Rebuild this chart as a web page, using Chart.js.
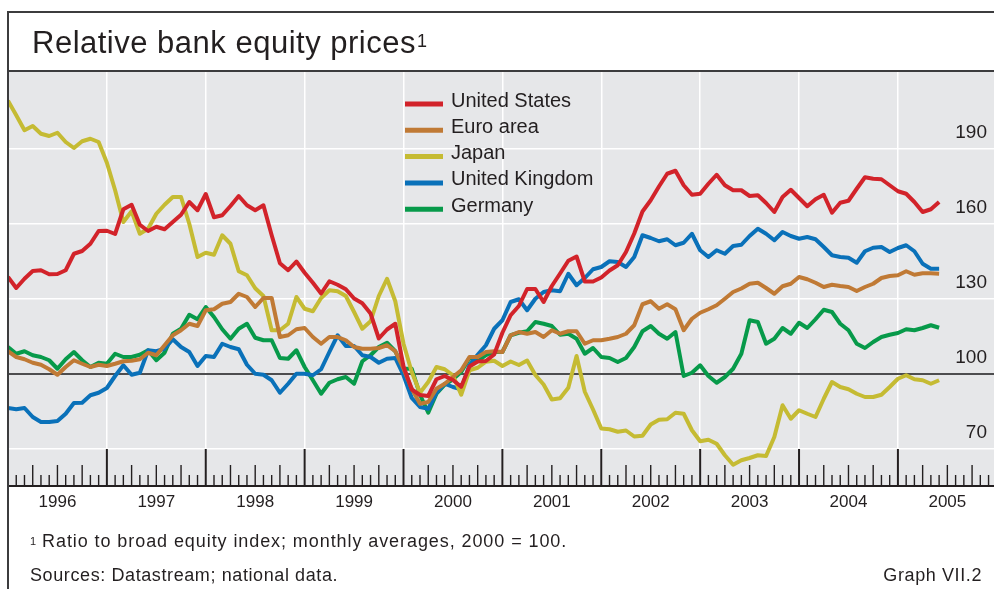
<!DOCTYPE html>
<html>
<head>
<meta charset="utf-8">
<title>Relative bank equity prices</title>
<script src="https://cdn.jsdelivr.net/npm/chart.js@4.4.1/dist/chart.umd.min.js"></script>
<style>
  html, body { margin: 0; padding: 0; background: #fff; }
  #wrap { position: relative; width: 994px; height: 589px; overflow: hidden;
          font-family: 'Liberation Sans', Arial, sans-serif; color: #231f20; }
  #chart { position: absolute; left: 0; top: 0; }
  .rule { position: absolute; background: #3c3c3e; }
  .title { position: absolute; left: 32px; top: 27px; font-size: 31px; line-height: 31px;
           letter-spacing: 0.5px; white-space: nowrap; }
  .title sup { font-size: 18px; vertical-align: top; position: relative; top: -1px; margin-left: 1px; }
  .foot { position: absolute; font-size: 18px; line-height: 18px; letter-spacing: 0.6px; white-space: nowrap; }
  .foot.note { letter-spacing: 0.92px; }
  .foot sup { font-size: 11px; vertical-align: top; position: relative; top: 0px; letter-spacing: 0; }
</style>
</head>
<body>
<div id="wrap">
  <canvas id="chart" width="994" height="589"></canvas>
  <div class="rule" style="left:7px; top:11px; width:2px; height:578px;"></div>
  <div class="rule" style="left:7px; top:11px; width:987px; height:2px;"></div>
  <div class="rule" style="left:7px; top:70px; width:987px; height:2px;"></div>
  <div class="title">Relative bank equity prices<sup>1</sup></div>
  <div class="foot note" style="left:30px; top:532px;"><sup>1</sup> Ratio to broad equity index; monthly averages, 2000 = 100.</div>
  <div class="foot" style="left:30px; top:566px;">Sources: Datastream; national data.</div>
  <div class="foot" style="right:12px; top:566px;">Graph VII.2</div>
</div>
<script>
/* ── Data: monthly values, Jan 1996 … Jun 2005 (index 0 = Jan 1996) ── */
var startYear = 1996;
var yearLabels = ['1996', '1997', '1998', '1999', '2000', '2001', '2002', '2003', '2004', '2005'];
var yTickValues = [70, 100, 130, 160, 190];
var seriesNames = ['United States', 'Euro area', 'Japan', 'United Kingdom', 'Germany'];

var usData = [
  138.8, 134.4, 138.1, 141.2, 141.5, 139.9, 140.0, 141.5, 148.1, 149.2, 152.1, 157.2,
  157.3, 156.0, 165.9, 167.7, 159.7, 157.2, 158.9, 157.9, 160.8, 163.7, 168.8, 165.5,
  172.0, 162.7, 163.5, 167.2, 171.2, 167.5, 165.5, 167.5, 155.5, 144.3, 141.5, 145.0,
  140.5, 136.5, 132.2, 137.1, 135.7, 133.9, 130.2, 128.3, 124.2, 114.2, 117.8, 120.1,
  103.0, 93.8, 91.6, 91.2, 97.9, 99.2, 97.6, 94.9, 103.0, 105.0, 105.2, 107.8,
  116.5, 123.5, 127.2, 134.0, 134.0, 128.8, 135.2, 140.2, 145.3, 147.0, 137.0, 137.0,
  138.6, 141.4, 143.5, 148.8, 156.2, 165.0, 169.5, 175.0, 180.1, 181.3, 175.5, 171.7,
  172.1, 176.1, 179.7, 175.5, 173.5, 173.5, 171.2, 171.5, 168.4, 164.8, 170.8, 173.7,
  170.4, 167.1, 169.9, 171.7, 164.5, 168.5, 169.3, 174.1, 178.7, 178.1, 177.9, 175.5,
  173.1, 172.1, 168.8, 164.8, 165.9, 168.8
];
var euroData = [
  109.1, 106.8, 105.9, 104.5, 103.7, 101.9, 99.7, 102.8, 105.5, 104.1, 102.8, 103.7,
  103.2, 104.1, 105.1, 105.3, 105.9, 108.5, 107.5, 111.5, 115.5, 117.5, 120.1, 119.2,
  125.5, 125.9, 128.1, 128.8, 132.1, 130.8, 126.8, 130.4, 130.4, 114.8, 115.5, 117.9,
  118.4, 114.8, 112.1, 114.8, 114.8, 113.5, 110.8, 110.1, 110.1, 110.4, 111.5, 109.1,
  102.1, 94.1, 88.1, 88.8, 94.1, 96.1, 98.8, 101.5, 106.8, 106.8, 108.8, 109.1,
  108.8, 115.5, 116.8, 116.1, 116.8, 114.8, 117.5, 116.1, 117.1, 117.1, 112.1, 113.5,
  113.5, 114.1, 114.8, 116.1, 119.5, 127.9, 129.1, 126.1, 127.9, 125.9, 117.5, 122.1,
  124.5, 125.9, 127.5, 130.1, 132.8, 134.2, 136.1, 136.5, 134.4, 132.1, 135.1, 136.1,
  138.8, 137.9, 136.5, 134.8, 135.7, 135.2, 134.8, 133.2, 134.8, 136.1, 138.4, 139.2,
  139.5, 141.1, 139.7, 140.3, 140.3, 140.1
];
var japanData = [
  209.3, 203.5, 197.5, 199.2, 196.1, 195.2, 196.5, 192.8, 190.4, 193.1, 194.1, 192.8,
  184.5, 173.5, 160.8, 165.1, 156.1, 158.1, 164.1, 167.7, 170.8, 170.8, 160.1, 146.8,
  148.5, 147.7, 155.5, 152.1, 141.1, 139.5, 134.3, 131.2, 117.5, 117.5, 120.1, 130.8,
  126.1, 125.1, 130.4, 133.5, 133.1, 131.2, 124.8, 118.1, 121.1, 131.2, 138.1, 129.1,
  112.1, 100.8, 92.5, 96.8, 102.8, 101.9, 99.5, 91.7, 101.5, 102.5, 104.9, 105.3,
  103.2, 105.0, 103.6, 105.4, 99.6, 95.8, 89.8, 90.3, 94.5, 107.2, 92.9, 85.8,
  78.2, 77.9, 76.9, 77.4, 75.0, 75.3, 79.8, 81.7, 81.9, 84.5, 84.1, 77.5,
  73.1, 73.7, 72.1, 67.5, 63.7, 65.5, 66.4, 67.5, 67.2, 74.8, 87.5, 82.1,
  85.5, 84.1, 82.8, 90.1, 96.8, 94.8, 93.9, 92.1, 90.8, 90.8, 91.7, 94.8,
  98.1, 99.5, 97.9, 97.5, 96.1, 97.5
];
var ukData = [
  86.4, 85.9, 86.4, 82.8, 80.8, 80.8, 81.2, 84.1, 88.4, 88.5, 91.5, 92.5,
  94.4, 99.2, 103.5, 99.7, 100.5, 109.5, 109.1, 110.1, 113.9, 110.8, 108.8, 103.2,
  107.2, 106.8, 112.1, 110.8, 109.9, 103.7, 100.1, 99.7, 97.5, 92.5, 96.1, 100.1,
  100.1, 99.5, 101.9, 108.8, 115.5, 111.2, 111.2, 107.5, 106.8, 104.5, 106.1, 106.4,
  99.5, 90.4, 86.8, 86.1, 92.5, 96.1, 94.8, 93.9, 103.5, 107.7, 111.5, 118.1,
  121.5, 128.8, 129.9, 125.5, 130.1, 132.8, 133.5, 133.1, 140.1, 135.5, 138.4, 141.9,
  142.8, 145.1, 144.8, 142.8, 146.8, 155.5, 154.4, 153.1, 153.9, 151.5, 152.5, 156.1,
  149.5, 146.8, 149.5, 148.1, 151.2, 151.7, 155.2, 158.1, 156.1, 153.5, 156.8, 155.2,
  154.1, 154.8, 153.9, 150.8, 147.5, 146.8, 146.5, 144.5, 149.1, 150.5, 150.8, 148.8,
  150.4, 151.5, 149.1, 144.1, 142.1, 142.1
];
var germanyData = [
  110.8, 108.1, 109.1, 107.5, 106.8, 105.5, 102.1, 105.9, 108.8, 105.5, 102.8, 104.5,
  104.1, 108.1, 106.8, 106.8, 107.7, 109.5, 105.5, 108.5, 116.1, 118.1, 123.7, 121.9,
  126.8, 122.8, 117.9, 114.1, 118.1, 120.1, 114.5, 113.5, 113.5, 106.4, 106.1, 109.5,
  102.8, 97.5, 92.1, 96.5, 97.9, 98.8, 96.1, 105.1, 107.5, 110.8, 112.5, 109.1,
  102.1, 102.1, 91.7, 84.5, 92.1, 95.7, 97.9, 100.8, 106.4, 105.1, 107.5, 108.8,
  108.8, 115.5, 116.5, 117.1, 120.8, 120.1, 119.2, 115.7, 116.1, 114.1, 108.1, 110.4,
  106.8, 106.4, 104.8, 106.4, 110.8, 117.1, 119.2, 116.1, 114.1, 116.8, 99.2, 100.5,
  103.5, 99.2, 96.5, 98.8, 102.1, 108.1, 121.5, 120.8, 112.1, 114.1, 118.4, 116.1,
  120.5, 118.4, 121.9, 125.7, 124.8, 120.1, 117.5, 112.1, 110.4, 112.8, 114.8, 115.7,
  116.4, 117.9, 117.5, 118.4, 119.5, 118.5
];

/* ── Helpers ─────────────────────────────────────────────────── */
var FONT = "'Liberation Sans', Arial, sans-serif";
var INK = '#231f20';

function toPoints(arr) {
  return arr.map(function(v, i) { return { x: i, y: v }; });
}

function lineSet(label, data, color) {
  return {
    label: label, data: toPoints(data), borderColor: color, backgroundColor: color,
    borderWidth: 4, pointRadius: 0, tension: 0, fill: false,
    borderJoinStyle: 'round', borderCapStyle: 'butt'
  };
}

/* gray plot background */
var plotBg = {
  id: 'plotBg',
  beforeDraw: function(chart) {
    var a = chart.chartArea, ctx = chart.ctx;
    ctx.save();
    ctx.fillStyle = '#e6e7e9';
    ctx.fillRect(a.left, a.top, a.right - a.left, a.bottom - a.top);
    ctx.restore();
  }
};

/* monthly / quarterly / yearly tick marks rising from the base line */
var monthTicks = {
  id: 'monthTicks',
  beforeDatasetsDraw: function(chart) {
    var ctx = chart.ctx, xs = chart.scales.x, a = chart.chartArea;
    ctx.save();
    ctx.strokeStyle = INK;
    for (var m = 1; m < 12 * yearLabels.length; m++) {
      var px = xs.getPixelForValue(m);
      if (px > a.right) break;
      var len = m % 12 === 0 ? 37 : (m % 3 === 0 ? 21 : 11);
      ctx.lineWidth = m % 12 === 0 ? 2 : 1.4;
      ctx.beginPath();
      ctx.moveTo(px, a.bottom);
      ctx.lineTo(px, a.bottom - len);
      ctx.stroke();
    }
    ctx.restore();
  }
};

/* legend drawn inside the plot */
var insideLegend = {
  id: 'insideLegend',
  afterDatasetsDraw: function(chart) {
    var ctx = chart.ctx, a = chart.chartArea;
    var x0 = a.left + 397, y0 = a.top + 32;
    ctx.save();
    ctx.font = '20px ' + FONT;
    ctx.textBaseline = 'alphabetic';
    chart.data.datasets.forEach(function(ds, k) {
      var y = y0 + k * 26.3;
      ctx.strokeStyle = ds.borderColor;
      ctx.lineWidth = 5;
      ctx.beginPath();
      ctx.moveTo(x0, y);
      ctx.lineTo(x0 + 38, y);
      ctx.stroke();
      ctx.fillStyle = INK;
      ctx.fillText(ds.label, x0 + 46, y + 2.5);
    });
    ctx.restore();
  }
};

/* ── Chart ───────────────────────────────────────────────────── */
var pxPerMonth = 8.24;

new Chart(document.getElementById('chart'), {
  type: 'line',
  data: {
    datasets: [
      lineSet(seriesNames[0], usData, '#d2232a'),
      lineSet(seriesNames[1], euroData, '#c07a35'),
      lineSet(seriesNames[2], japanData, '#c5bb33'),
      lineSet(seriesNames[3], ukData, '#0a71b9'),
      lineSet(seriesNames[4], germanyData, '#079a4a')
    ]
  },
  options: {
    responsive: false,
    animation: false,
    devicePixelRatio: 1,
    layout: { padding: { left: 8, top: 72, right: 0, bottom: 0 } },
    plugins: { legend: { display: false }, tooltip: { enabled: false } },
    scales: {
      x: {
        type: 'linear',
        position: 'bottom',
        min: 0,
        max: 986 / pxPerMonth,
        afterBuildTicks: function(s) {
          s.ticks = yearLabels.map(function(_, k) { return { value: k * 12 }; });
        },
        afterFit: function(s) { s.height = 103; s.paddingLeft = 0; s.paddingRight = 0; },
        grid: { color: '#ffffff', lineWidth: 1.5, drawTicks: false },
        border: { display: true, color: INK, width: 2 },
        ticks: {
          autoSkip: false, maxRotation: 0, padding: 6,
          labelOffset: 6 * pxPerMonth,
          color: INK, font: { family: FONT, size: 17 },
          callback: function(v) { return String(startYear + Math.round(v / 12)); }
        }
      },
      y: {
        type: 'linear',
        position: 'right',
        min: 55.2,
        max: 220.8,
        afterBuildTicks: function(s) {
          s.ticks = yTickValues.map(function(v) { return { value: v }; });
        },
        afterFit: function(s) { s.width = 0; s.paddingTop = 0; s.paddingBottom = 0; },
        grid: {
          drawTicks: false,
          color: function(c) { return c.tick && c.tick.value === 100 ? '#4d4d4f' : '#ffffff'; },
          lineWidth: function(c) { return c.tick && c.tick.value === 100 ? 2 : 1.5; }
        },
        border: { display: false },
        ticks: {
          mirror: true, padding: -7, labelOffset: -16,
          color: INK, font: { family: FONT, size: 19 }
        }
      }
    }
  },
  plugins: [plotBg, monthTicks, insideLegend]
});
</script>
</body>
</html>
